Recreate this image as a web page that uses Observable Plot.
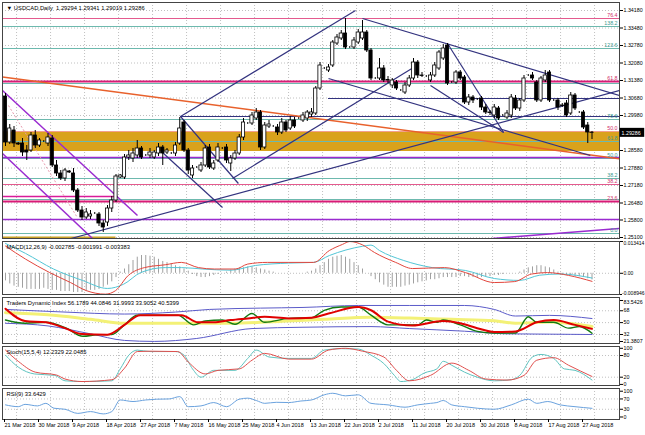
<!DOCTYPE html>
<html><head><meta charset="utf-8">
<script src="https://cdn.jsdelivr.net/npm/d3@7"></script>
<script src="https://cdn.jsdelivr.net/npm/@observablehq/plot@0.6"></script>
<style>
body{margin:0;background:#fff;}
#wrap{position:relative;width:645px;height:435px;overflow:hidden;background:#fff;}
#wrap > div{position:absolute;left:0;}
</style></head><body><div id="wrap"></div>
<script>
// ---------- DATA ----------
const headerPrice = "▼ USDCAD,Daily  1.29294 1.29341 1.29019 1.29286";
const headerMacd = "MACD(12,26,9) -0.002785 -0.001991 -0.003383";
const headerTdi = "Traders Dynamic Index 56.1789 44.0846 31.9993 33.9052 40.5399";
const headerStoch = "Stoch(15,5,4) 12.2329 22.0485";
const headerRsi = "RSI(9) 33.6429";

const dateLabels = ["21 Mar 2018","30 Mar 2018","9 Apr 2018","18 Apr 2018","27 Apr 2018","7 May 2018","16 May 2018","25 May 2018","4 Jun 2018","13 Jun 2018","22 Jun 2018","2 Jul 2018","11 Jul 2018","20 Jul 2018","30 Jul 2018","8 Aug 2018","17 Aug 2018","27 Aug 2018"];
const dateIdx = [0,8,16,24,32,40,48,56,64,72,80,88,96,104,112,120,128,136];

const priceTicks = [1.3418,1.3348,1.3278,1.3208,1.3138,1.3068,1.2998,1.2858,1.2788,1.2718,1.2648,1.2580,1.2510];
const lastPrice = 1.29286;

const O = [1.3074,1.2890,1.2938,1.2886,1.2886,1.2858,1.2858,1.2918,1.2878,1.2894,
 1.2886,1.2906,1.2798,1.2766,1.2746,1.2774,1.2766,1.2698,1.2618,1.2590,
 1.2594,1.2606,1.2602,1.2566,1.2570,1.2626,1.2658,1.2750,1.2750,1.2830,
 1.2826,1.2838,1.2866,1.2838,1.2838,1.2830,1.2846,1.2870,1.2850,1.2846,
 1.2846,1.2886,1.2970,1.2858,1.2758,1.2790,1.2778,1.2798,1.2870,1.2786,
 1.2818,1.2866,1.2870,1.2806,1.2826,1.2846,1.2910,1.2966,1.2966,1.2986,
 1.3010,1.2870,1.2954,1.2954,1.2950,1.2930,1.2970,1.2946,1.2978,1.2986,
 1.2978,1.2986,1.3002,1.3006,1.3106,1.3186,1.3178,1.3198,1.3286,1.3306,
 1.3326,1.3270,1.3270,1.3290,1.3306,1.3330,1.3258,1.3146,1.3146,1.3186,
 1.3138,1.3118,1.3130,1.3098,1.3090,1.3118,1.3146,1.3210,1.3158,1.3154,
 1.3138,1.3158,1.3186,1.3226,1.3278,1.3130,1.3130,1.3170,1.3150,1.3050,
 1.3070,1.3062,1.3066,1.3030,1.3010,1.2998,1.3026,1.2998,1.2990,1.2998,
 1.3066,1.3026,1.3058,1.3158,1.3158,1.3130,1.3058,1.3138,1.3170,1.3058,
 1.3058,1.3038,1.3046,1.3006,1.3078,1.3010,1.3010,1.2958,1.29294];
const H = [1.3086,1.2962,1.2954,1.2890,1.2906,1.2878,1.2930,1.2938,1.2906,1.2898,
 1.2926,1.2918,1.2818,1.2778,1.2786,1.2778,1.2786,1.2706,1.2634,1.2626,
 1.2618,1.2610,1.2610,1.2578,1.2638,1.2674,1.2762,1.2762,1.2842,1.2858,
 1.2866,1.2898,1.2874,1.2842,1.2866,1.2858,1.2886,1.2878,1.2866,1.2850,
 1.2890,1.2990,1.2978,1.2866,1.2798,1.2794,1.2810,1.2878,1.2882,1.2818,
 1.2886,1.2870,1.2882,1.2838,1.2858,1.2922,1.2986,1.2970,1.3010,1.3026,
 1.3018,1.2970,1.2978,1.2958,1.2962,1.2986,1.2978,1.2994,1.2990,1.2990,
 1.3010,1.3018,1.3026,1.3114,1.3210,1.3190,1.3202,1.3298,1.3322,1.3338,
 1.3386,1.3274,1.3310,1.3342,1.3378,1.3338,1.3266,1.3150,1.3226,1.3198,
 1.3154,1.3146,1.3138,1.3102,1.3130,1.3158,1.3226,1.3218,1.3170,1.3158,
 1.3170,1.3210,1.3258,1.3282,1.3286,1.3134,1.3178,1.3178,1.3158,1.3082,
 1.3078,1.3066,1.3074,1.3042,1.3018,1.3042,1.3034,1.3002,1.3018,1.3082,
 1.3078,1.3066,1.3158,1.3162,1.3170,1.3138,1.3154,1.3178,1.3178,1.3062,
 1.3066,1.3046,1.3058,1.3090,1.3086,1.3014,1.3018,1.2970,1.29341];
const L = [1.2874,1.2882,1.2870,1.2878,1.2834,1.2818,1.2850,1.2866,1.2870,1.2890,
 1.2874,1.2790,1.2754,1.2738,1.2734,1.2766,1.2690,1.2610,1.2578,1.2582,
 1.2582,1.2602,1.2554,1.2530,1.2554,1.2610,1.2650,1.2746,1.2742,1.2818,
 1.2810,1.2826,1.2822,1.2834,1.2826,1.2822,1.2834,1.2798,1.2842,1.2842,
 1.2834,1.2878,1.2850,1.2762,1.2746,1.2786,1.2770,1.2790,1.2782,1.2778,
 1.2810,1.2862,1.2806,1.2774,1.2818,1.2838,1.2898,1.2962,1.2958,1.2978,
 1.2858,1.2862,1.2946,1.2950,1.2918,1.2922,1.2930,1.2938,1.2946,1.2982,
 1.2970,1.2974,1.2990,1.2998,1.3098,1.3182,1.3170,1.3190,1.3278,1.3298,
 1.3262,1.3266,1.3262,1.3282,1.3298,1.3250,1.3138,1.3142,1.3138,1.3130,
 1.3126,1.3106,1.3098,1.3094,1.3082,1.3110,1.3138,1.3146,1.3150,1.3150,
 1.3130,1.3150,1.3178,1.3218,1.3118,1.3126,1.3122,1.3138,1.3042,1.3038,
 1.3046,1.3058,1.3018,1.3002,1.2998,1.2986,1.2978,1.2994,1.2982,1.2986,
 1.3018,1.3014,1.3050,1.3154,1.3138,1.3050,1.3050,1.3130,1.3050,1.3054,
 1.3018,1.3030,1.2990,1.2998,1.3018,1.3006,1.2942,1.2886,1.29019];
const C = [1.2890,1.2946,1.2886,1.2882,1.2850,1.2850,1.2918,1.2878,1.2898,1.2894,
 1.2910,1.2798,1.2766,1.2746,1.2778,1.2770,1.2698,1.2618,1.2590,1.2610,
 1.2602,1.2606,1.2566,1.2550,1.2626,1.2658,1.2754,1.2758,1.2830,1.2838,
 1.2846,1.2866,1.2830,1.2838,1.2850,1.2850,1.2870,1.2846,1.2858,1.2846,
 1.2878,1.2946,1.2858,1.2778,1.2786,1.2790,1.2798,1.2866,1.2790,1.2806,
 1.2870,1.2866,1.2818,1.2826,1.2846,1.2910,1.2970,1.2966,1.2998,1.3010,
 1.2870,1.2958,1.2962,1.2954,1.2930,1.2970,1.2938,1.2978,1.2954,1.2986,
 1.2998,1.3010,1.3010,1.3106,1.3198,1.3186,1.3190,1.3290,1.3310,1.3326,
 1.3270,1.3270,1.3298,1.3330,1.3330,1.3258,1.3146,1.3146,1.3186,1.3138,
 1.3140,1.3138,1.3106,1.3098,1.3118,1.3146,1.3210,1.3158,1.3156,1.3154,
 1.3158,1.3198,1.3250,1.3266,1.3126,1.3130,1.3170,1.3146,1.3050,1.3070,
 1.3058,1.3062,1.3030,1.3010,1.3008,1.3030,1.2986,1.2998,1.3006,1.3070,
 1.3026,1.3058,1.3146,1.3158,1.3146,1.3058,1.3146,1.3158,1.3058,1.3058,
 1.3030,1.3036,1.2998,1.3078,1.3026,1.3010,1.2950,1.2930,1.29286];

// Fibonacci / horizontal levels
const pinkFibPrices = [1.3386,1.3134,1.2934,1.2722,1.2654];
const pinkFibLabels = ["76.4","61.8","50.0","38.2","23.6"];
const tealFibPrices = [1.3354,1.3266,1.3126,1.2982,1.2894,1.2826,1.2746,1.2662,1.2526];
const tealFibLabels = ["138.2","123.6","","78.6","61.8","50.0","38.2","","0.0"];
const boldMagentaLevels = [1.3134,1.2654];
const violetLevels = [1.2830,1.2582];
const zoneLow = 1.2854, zoneHigh = 1.2934;
// partial horizontal lines: [startBar, endBar, price]
const navyHorizontals = [[76,144.47,1.3066],[41.18,144.47,1.2994]];
const magentaShort = [[-0.706,26.4,1.2674]];
const goldShort = [[-0.706,26,1.2510]];
// trend lines: [bar1, price1, bar2, price2]
const navyLines = [
  [41.18,1.2994,82.35,1.3418],[53.41,1.2746,96.0,1.3190],[15.4,1.2506,144.47,1.3098],
  [84.0,1.3386,144.47,1.3078],[76.0,1.3146,137.6,1.2838],[104.0,1.3286,117.2,1.2930],
  [100.0,1.3118,117.2,1.2930],[41.18,1.2994,54.8,1.2726],[36.94,1.2850,51.06,1.2630]];
const violetLines = [[-0.706,1.3098,31.06,1.2598],[-0.706,1.2846,20.47,1.2506],[114.6,1.2506,144.47,1.2546]];
const orangeLine = [[-0.706,1.3152,144.47,1.2825]];
const pinkDotLine = [[0.7,1.3038,16.9,1.2590]];

// MACD
const macdHistMilli = [-3.2,-4.5,-5.4,-5.9,-6.3,-6.8,-6.8,-6.8,-6.8,-6.3,-6.8,-7.2,-7.2,-7.7,-7.7,-7.7,-8.1,-8.1,-8.1,-7.7,-7.2,-7.2,-6.8,-5.9,-5,-3.6,
 -1.8,0.5,1.8,3.6,5.4,6.8,7.5,7.5,7.2,6.8,5.9,5,4.5,4,3.2,
 2.7,1.8,0.9,-0.5,-1.4,-1.8,-1.8,-1.4,-0.9,-0.5,0,0.5,1.4,1.8,2.3,2.3,
 2.7,2.7,2.3,1.8,1.4,0.9,0.5,0,0,0,0,0,0,0,0.5,0.9,
 1.8,3.2,4.5,5.9,6.8,7.2,7.5,6.8,5.9,4.5,3.2,1.8,
 0,-1.4,-2.7,-4,-5,-5.9,-5.9,-5.9,-5.9,-5.4,-5,-4.5,-4,-3.6,-3.2,-2.7,-2.7,-2.3,-1.8,-1.8,
 -1.8,-1.8,-1.4,-1.4,-1.8,-1.8,-1.8,-1.8,-1.4,-1.4,-0.9,-0.9,-0.5,0,
 0,0,0.5,1.4,2.3,2.7,3.2,3.2,2.7,2.3,1.4,0.5,
 -0.5,-0.9,-0.9,-1.4,-1.4,-1.8,-2.3,-2.8];
const macdRedIdx = [0,4.7,10.4,15.3,19,23.5,25.9,28.9,32.7,37.6,41.4,45.4,49.2,54.1,57,61.6,66.6,72.5,76.2,79.3,81,84,86.8,91.8,95.8,103.3,108.2,115,119.8,123.8,127.5,132.5,138];
const macdRedVal = [0.0115,0.0060,0.0003,-0.0039,-0.0073,-0.0088,-0.0073,-0.0009,0.0024,0.0036,0.0046,0.0024,0.0018,0.0018,0.0039,0.0046,0.0046,0.0046,0.0096,0.0122,0.0134,0.0120,0.0088,0.0046,0.0020,0.0024,0.0003,-0.0039,-0.0035,-0.0003,0.0003,-0.0009,-0.0034];
const macdCyanIdx = [0,4.7,11.3,18.1,24,27.8,31.8,37.6,41.4,46.4,53,58.8,66.6,72.5,76.2,84,86,88,93.7,100.4,108.2,115,121,125.7,130.5,138];
const macdCyanVal = [0.0126,0.0084,0.0018,-0.0030,-0.0064,-0.0046,0.0003,0.0024,0.0024,0.0018,0.0013,0.0033,0.0043,0.0046,0.0075,0.0114,0.0119,0.0096,0.0054,0.0024,0.0012,-0.0022,-0.0030,-0.0008,-0.0003,-0.0020];
const macdTicks = [0.013414,0,-0.008946];
const macdTickLabels = ["0.013414","0.00","-0.008946"];

// Traders Dynamic Index
const tdiUpIdx = [0,14,28,40,48,60,70,83,95,108,115,120,128,138];
const tdiUpVal = [70,66,63,66,70,72,73,76,76,76,70,60,61,56.2];
const tdiLowIdx = [0,10,20,28,35,45,58,70,86,95,108,118,128,138];
const tdiLowVal = [49,45,33,23,21.5,26,41,43,44,41,37,33,32.5,32];
const tdiMidIdx = [0,10,20,28,40,53,65,75,86,95,105,115,120,128,138];
const tdiMidVal = [65,62,55,49,49,49,52,55,58,57,55,53,49,51,44.1];
const tdiGreenIdx = [0,4.6,9.5,14.3,18.2,22,25,28,31,35.6,40.5,44.3,47,51,54,58,61,66.6,72,75,79,83,86,90,94,97,99,101.5,103,107,111,115,120,123,125,129,132.5,135,138];
const tdiGreenVal = [54,49,50.5,41.6,29.3,31.8,31.8,46.6,61.3,61.3,61.3,46.6,52.5,53.9,47.5,63.8,50.5,56.4,57.4,68.7,73.6,73.6,61.3,46.6,46.6,46.6,53.9,50.5,53.9,46.6,36.7,34.2,34.2,58.9,50.5,50.5,41.6,44.1,33.9];
const tdiRedIdx = [0,4.6,9.5,14,18,24,28,31.7,37.6,41.4,45.3,49,53,57,61,66.6,72,76,83,86,90,95.7,103,107,111,115,120,125,129,134,138];
const tdiRedVal = [71,52.5,50.5,41.6,32.8,31.8,46.6,61.3,61.3,61.3,50.5,50.5,53.9,56.4,58.9,56.4,57.4,63.8,73.6,68.7,51.5,45.6,52.5,49,41.6,35.7,36.7,50.5,53.9,46.6,40.5];
const tdiTicks = [83.5426,68,50,32,21.3807];
const tdiLevels = [68,50,32];

// Stochastic
const stMainIdx = [0,3,6.8,11.6,14,18,25,27,29,31,34,40,42,44,46,49,54,57,59,62,66.6,72,75,79,83,86,89,91.5,93,95.7,98.6,101.5,103,105,108,111,115,119,121,124,126,129,131.5,134,138];
const stMainVal = [81,48,29,25,10,8,10,43,81,95,91,91,81,43,20,39,39,72,95,76,72,72,95,99,98,81,58,25,8,13,32,43,64,53,34,20,10,13,25,76,83,72,43,39,12.2];
const stSigIdx = [0,3,7,12,14,18,25,28,31,34,40.5,43,47,50,55,58,61,66.6,72,76,80,84,89,92,95,100,105,109,113,118,122,125,129,132.5,138];
const stSigVal = [95,64,34,26,15,8,13,45,91,92,91,62,29,39,43,67,86,70,70,95,100,92,76,39,10,25,59,39,15,12,25,67,74,53,22];
const stTicks = [100,80,20,0];
const stLevels = [80,20];

// RSI
const rsiIdx = [0,3,4.6,7.5,9.5,11.4,14,17,20,23,25,27,30,33,35.6,38.5,41,43,46,49,52,55,57,59,61,63.7,66.6,69.5,72,75,77,80,83,86,90,94,97,100,101.5,103,105,108,111,115,119,123,125,127.6,130.5,134,138];
const rsiVal = [47,40,49,43,53,34,30,14,21,12,21,66,60,66,69,70,79,40,43,56,40,69,73,64,53,57,56,62,66,86,92,82,86,53,47,38,47,53,56,64,47,40,34,30,47,69,53,60,47,40,33.6];
const rsiTicks = [100,70,30,0];
const rsiLevels = [70,30];

// ---------- BUILD ----------
const bars = C.map((c,i)=>({i, open:O[i], high:H[i], low:L[i], close:c}));
const pts = (idx, val) => idx.map((x,k)=>({x, v: val[k]}));
const seg = a => a.map(s=>({x1:s[0], y1:s[1], x2:s[2], y2:s[3]}));
const hseg = a => a.map(s=>({x1:s[0], x2:s[1], y:s[2]}));

const xDom = [-0.706, 144.47];
const FONT = "'Liberation Sans', Arial, sans-serif";
const gridIdx = d3.range(2.6, 145, 8);
const GRID = {stroke:"#b0b0b0", strokeDasharray:"1,2", strokeWidth:0.8};
const AX = {anchor:"right", label:null, tickSize:3, tickPadding:1, fontSize:5.3, fill:"#000"};

function cfg(h, mt, mb, yDom, marks, xAxis){
  return {width:645, height:h, marginTop:mt, marginBottom:mb, marginLeft:2, marginRight:26,
    x:{domain:xDom, label:null, axis: xAxis ? undefined : null},
    y:{domain:yDom, label:null},
    style:{background:"transparent", fontFamily:FONT, overflow:"visible", color:"#000"},
    marks};
}
function header(t){ return Plot.text([t], {frameAnchor:"top-left", dx:4, dy:3, lineAnchor:"top", fontSize:5.8, fill:"#000"}); }
function place(svg, top){
  const d = document.createElement("div"); d.style.top = top+"px"; d.appendChild(svg);
  document.getElementById("wrap").appendChild(d);
}

// Price panel
const pricePlot = Plot.plot(cfg(238, 2, 0, [1.2506, 1.3450], [
  Plot.ruleX(gridIdx, GRID),
  Plot.ruleY(priceTicks, GRID),
  Plot.rect([0], {x1: xDom[0], x2: xDom[1], y1: zoneLow, y2: zoneHigh, fill:"#D9A21C"}),
  Plot.ruleY(tealFibPrices, {stroke:"#6DB9AE", strokeWidth:1}),
  Plot.ruleY(pinkFibPrices, {stroke:"#E45A8E", strokeWidth:1}),
  Plot.ruleY([zoneHigh], {stroke:"#F2A08E", strokeWidth:1.2}),
  Plot.ruleY(boldMagentaLevels, {stroke:"#D81B76", strokeWidth:2}),
  Plot.ruleY(violetLevels, {stroke:"#9A2BD0", strokeWidth:1.6}),
  Plot.ruleY(hseg(navyHorizontals), {x1:"x1", x2:"x2", y:"y", stroke:"#33337F", strokeWidth:1.2}),
  Plot.ruleY(hseg(magentaShort), {x1:"x1", x2:"x2", y:"y", stroke:"#D81B9A", strokeWidth:1.6}),
  Plot.ruleY(hseg(goldShort), {x1:"x1", x2:"x2", y:"y", stroke:"#C9A227", strokeWidth:2}),
  Plot.link(seg(orangeLine), {x1:"x1", y1:"y1", x2:"x2", y2:"y2", stroke:"#E8612C", strokeWidth:1.5, clip:true}),
  Plot.link(seg(pinkDotLine), {x1:"x1", y1:"y1", x2:"x2", y2:"y2", stroke:"#E89AAE", strokeWidth:1, strokeDasharray:"2,2", clip:true}),
  Plot.link(seg(violetLines), {x1:"x1", y1:"y1", x2:"x2", y2:"y2", stroke:"#9A2BD0", strokeWidth:1.5, clip:true}),
  Plot.link(seg(navyLines), {x1:"x1", y1:"y1", x2:"x2", y2:"y2", stroke:"#33337F", strokeWidth:1.2, clip:true}),
  Plot.ruleX(bars, {x:"i", y1:"low", y2:"high", stroke:"#000", strokeWidth:1}),
  Plot.rect(bars, {x1: d=>d.i-0.38, x2: d=>d.i+0.38, y1:"open", y2:"close", fill: d=> d.close>=d.open ? "#fff" : "#000", stroke:"#000", strokeWidth:0.8}),
  Plot.text(pinkFibPrices.map((p,k)=>({p, t:pinkFibLabels[k]})), {y:"p", text:"t", frameAnchor:"right", textAnchor:"end", dx:-2, dy:-3.5, fontSize:5.3, fill:"#D0306A"}),
  Plot.text(tealFibPrices.map((p,k)=>({p, t:tealFibLabels[k]})).filter(d=>d.t), {y:"p", text:"t", frameAnchor:"right", textAnchor:"end", dx:-2, dy:-3.5, fontSize:5.3, fill:"#3E9A8E"}),
  Plot.frame({stroke:"#444", strokeWidth:1}),
  Plot.axisY(priceTicks, {...AX, tickFormat: d3.format(".5f")}),
  Plot.rect([lastPrice], {x1: 144.6, x2: 150.4, y1: d=>d-0.0018, y2: d=>d+0.0018, fill:"#000"}),
  Plot.text([lastPrice], {x: 144.95, y: d=>d, text: d=>d3.format(".5f")(d), textAnchor:"start", fontSize:5.3, fill:"#fff"}),
  header(headerPrice)
]));
place(pricePlot, 0);

// MACD panel
const macdFmt = d=>macdTickLabels[macdTicks.indexOf(d)];
const macdPlot = Plot.plot(cfg(53, 0, 0, [-0.008946, 0.013414], [
  Plot.ruleX(gridIdx, GRID),
  Plot.ruleY([0], GRID),
  Plot.ruleX(macdHistMilli.map((v,i)=>({i, v})), {x:"i", y1:0, y2: d=>d.v/1000, stroke:"#A0A0A0", strokeWidth:1}),
  Plot.line(pts(macdCyanIdx, macdCyanVal), {x:"x", y:"v", stroke:"#52C6D6", strokeWidth:1, curve:"monotone-x"}),
  Plot.line(pts(macdRedIdx, macdRedVal), {x:"x", y:"v", stroke:"#E2453C", strokeWidth:1, curve:"monotone-x"}),
  Plot.frame({stroke:"#444", strokeWidth:1}),
  Plot.axisY([macdTicks[0]], {...AX, fontSize:5, tickFormat: macdFmt, lineAnchor:"top"}),
  Plot.axisY([macdTicks[1]], {...AX, fontSize:5, tickFormat: macdFmt}),
  Plot.axisY([macdTicks[2]], {...AX, fontSize:5, tickSize:2, tickPadding:0.5, tickFormat: macdFmt, lineAnchor:"bottom"}),
  header(headerMacd)
]));
place(macdPlot, 241);

// TDI panel
const tdiPlot = Plot.plot(cfg(46, 0, 0, [18.35, 88.09], [
  Plot.ruleX(gridIdx, GRID),
  Plot.ruleY(tdiLevels, GRID),
  Plot.line(pts(tdiMidIdx, tdiMidVal), {x:"x", y:"v", stroke:"#F3F176", strokeWidth:3, curve:"monotone-x"}),
  Plot.line(pts(tdiUpIdx, tdiUpVal), {x:"x", y:"v", stroke:"#5B5BC9", strokeWidth:1, curve:"monotone-x"}),
  Plot.line(pts(tdiLowIdx, tdiLowVal), {x:"x", y:"v", stroke:"#5B5BC9", strokeWidth:1, curve:"monotone-x"}),
  Plot.line(pts(tdiGreenIdx, tdiGreenVal), {x:"x", y:"v", stroke:"#127A12", strokeWidth:1.4, curve:"monotone-x"}),
  Plot.line(pts(tdiRedIdx, tdiRedVal), {x:"x", y:"v", stroke:"#E00000", strokeWidth:2, curve:"monotone-x"}),
  Plot.frame({stroke:"#444", strokeWidth:1}),
  Plot.axisY([tdiTicks[0]], {...AX, tickFormat: d=>String(d), lineAnchor:"top"}),
  Plot.axisY(tdiTicks.slice(1), {...AX, tickFormat: d=>String(d)}),
  header(headerTdi)
]));
place(tdiPlot, 297);

// Stochastic panel
const stPlot = Plot.plot(cfg(39, 0, 0, [-3, 105], [
  Plot.ruleX(gridIdx, GRID),
  Plot.ruleY(stLevels, GRID),
  Plot.line(pts(stMainIdx, stMainVal), {x:"x", y:"v", stroke:"#5FC4C0", strokeWidth:1, curve:"monotone-x"}),
  Plot.line(pts(stSigIdx, stSigVal), {x:"x", y:"v", stroke:"#E0504E", strokeWidth:1, curve:"monotone-x"}),
  Plot.frame({stroke:"#444", strokeWidth:1}),
  Plot.axisY(stTicks, {...AX, tickFormat: d=>String(d)}),
  header(headerStoch)
]));
place(stPlot, 346);

// RSI panel with date axis
const rsiPlot = Plot.plot(cfg(47, 0, 16, [-9.7, 110.5], [
  Plot.ruleX(gridIdx, GRID),
  Plot.ruleY(rsiLevels, GRID),
  Plot.line(pts(rsiIdx, rsiVal), {x:"x", y:"v", stroke:"#6AA2DE", strokeWidth:1, curve:"monotone-x"}),
  Plot.frame({stroke:"#444", strokeWidth:1}),
  Plot.axisY(rsiTicks, {...AX, tickFormat: d=>String(d)}),
  Plot.axisX(dateIdx, {anchor:"bottom", label:null, tickSize:3, tickPadding:1, tickFormat: d=>dateLabels[dateIdx.indexOf(d)], textAnchor:"start", dx:-1, fontSize:5.5}),
  header(headerRsi)
], true));
place(rsiPlot, 388);
</script></body></html>
